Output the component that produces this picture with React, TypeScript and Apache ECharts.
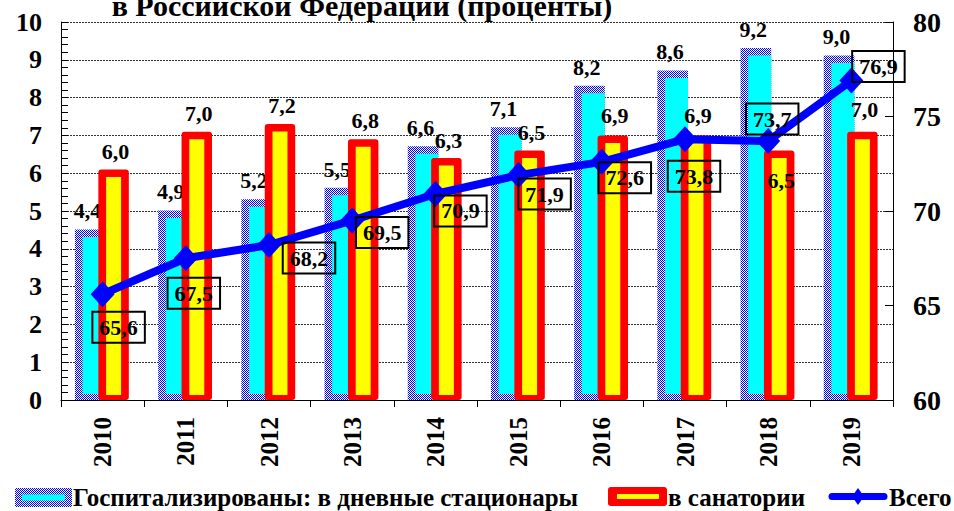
import React, { useEffect, useRef } from 'react';
import * as echarts from 'echarts';

const years = ['2010', '2011', '2012', '2013', '2014', '2015', '2016', '2017', '2018', '2019'];
const dayHospital = [4.4, 4.9, 5.2, 5.5, 6.6, 7.1, 8.2, 8.6, 9.2, 9.0];
const sanatorium = [6.0, 7.0, 7.2, 6.8, 6.3, 6.5, 6.9, 6.9, 6.5, 7.0];
const total = [65.6, 67.5, 68.2, 69.5, 70.9, 71.9, 72.6, 73.8, 73.7, 76.9];

const leftAxis = { min: 0, max: 10, interval: 1 };
const rightAxis = { min: 60, max: 80, interval: 5 };

const titleText = 'в Российской Федерации (проценты)';
const legendNames = ['Госпитализированы: в дневные стационары', 'в санатории', 'Всего'];

// label placement (styling only)
const totalLabelOffsets: [number, number][] = [
  [16, 33], [8, 35], [40, 13], [30, 12], [25, 17], [26, 19], [23, 16], [9, 37], [4, -22], [27, -14],
];
const sanLabelDy = [-22, -22, -22, -22, -21, -22, -24, -24, 26, -26];

const FONT = "'Liberation Serif', 'Times New Roman', 'DejaVu Serif', serif";
const fmt = (v: number) => v.toFixed(1).replace('.', ',');

function makeChecker() {
  const c = document.createElement('canvas');
  c.width = 2;
  c.height = 2;
  const ctx = c.getContext('2d')!;
  ctx.fillStyle = '#ffffff';
  ctx.fillRect(0, 0, 2, 2);
  ctx.fillStyle = '#0000ff';
  ctx.fillRect(0, 0, 1, 1);
  ctx.fillRect(1, 1, 1, 1);
  return { image: c.toDataURL(), repeat: 'repeat', imageWidth: 2, imageHeight: 2 } as any;
}

export default function App() {
  const ref = useRef<HTMLDivElement>(null);
  useEffect(() => {
    if (!ref.current) return;
    const chart = echarts.init(ref.current, undefined, { renderer: 'svg' });
    const checker = makeChecker();

    const blueRender = (params: any, api: any) => {
      const idx = api.value(0);
      const v = api.value(1);
      const p = api.coord([idx, v]);
      const p0 = api.coord([idx, 0]);
      const k = api.size([1, 0])[0] / 83.3;
      const cx = p[0];
      const y = p[1];
      const y0 = p0[1];
      const l = cx - 27.7 * k;
      const r = cx + 3 * k;
      return {
        type: 'group',
        children: [
          { type: 'rect', shape: { x: l, y: y - 4.3, width: r - l, height: y0 - y + 4.3 }, style: { fill: checker } },
          { type: 'rect', shape: { x: l + 7.7, y: y + 3.2, width: r - l - 7.7, height: y0 - y - 9.2 }, style: { fill: '#00ffff' } },
          {
            type: 'text', x: cx - 15 * k, y: y - 23, z2: 10,
            style: { text: fmt(v), fontFamily: FONT, fontSize: 22, fontWeight: 'bold', fill: '#000', align: 'center', verticalAlign: 'middle' },
          },
        ],
      };
    };

    const redRender = (params: any, api: any) => {
      const idx = api.value(0);
      const v = api.value(1);
      const p = api.coord([idx, v]);
      const p0 = api.coord([idx, 0]);
      const k = api.size([1, 0])[0] / 83.3;
      const cx = p[0];
      const y = p[1];
      const y0 = p0[1];
      const l = cx - 4.25 * k;
      const r = cx + 26.25 * k;
      return {
        type: 'group',
        children: [
          { type: 'rect', shape: { x: l, y: y - 3.75, width: r - l, height: y0 - y + 3.75, r: 3 }, style: { fill: '#ff0000' } },
          { type: 'rect', shape: { x: l + 7.75, y: y + 3.75, width: r - l - 15.5, height: y0 - y - 8.75 }, style: { fill: '#ffff00' } },
          {
            type: 'text', x: cx + 13 * k, y: y + sanLabelDy[idx], z2: 10,
            style: { text: fmt(v), fontFamily: FONT, fontSize: 22, fontWeight: 'bold', fill: '#000', align: 'center', verticalAlign: 'middle' },
          },
        ],
      };
    };

    const ly = 497;
    const legendText = (x: number, text: string) => ({
      type: 'text', x, y: ly,
      style: { text, fontFamily: FONT, fontSize: 25, fontWeight: 'bold', fill: '#000', verticalAlign: 'middle' },
    });

    chart.setOption({
      animation: false,
      backgroundColor: '#ffffff',
      textStyle: { fontFamily: FONT },
      grid: { left: 61, right: 61, top: 22, bottom: 111, containLabel: false },
      xAxis: {
        type: 'category',
        data: years,
        axisLine: { lineStyle: { color: '#000', width: 1 } },
        axisTick: { show: true, length: 7, lineStyle: { color: '#000' } },
        axisLabel: { rotate: 90, fontSize: 25, fontWeight: 'bold', color: '#000', fontFamily: FONT, margin: 17 },
        splitLine: { show: false },
      },
      yAxis: [
        {
          type: 'value', min: leftAxis.min, max: leftAxis.max, interval: leftAxis.interval,
          axisLine: { show: true, lineStyle: { color: '#000' } },
          axisTick: { show: true, inside: true, length: 7, lineStyle: { color: '#000' } },
          minorTick: { show: true, splitNumber: 5, length: 7, lineStyle: { color: '#000' } },
          axisLabel: { fontSize: 26, fontWeight: 'bold', color: '#000', fontFamily: FONT, margin: 19 },
          splitLine: { show: true, lineStyle: { color: '#333', type: [2, 1], width: 1 } },
        },
        {
          type: 'value', min: rightAxis.min, max: rightAxis.max, interval: rightAxis.interval,
          position: 'right',
          axisLine: { show: true, lineStyle: { color: '#000' } },
          axisTick: { show: true, inside: true, length: 8, lineStyle: { color: '#000' } },
          axisLabel: { fontSize: 28, fontWeight: 'bold', color: '#000', fontFamily: FONT, margin: 20 },
          splitLine: { show: false },
        },
      ],
      series: [
        {
          name: legendNames[0], type: 'custom', renderItem: blueRender,
          data: dayHospital.map((v, i) => [i, v]), encode: { x: 0, y: 1 }, z: 2,
        },
        {
          name: legendNames[1], type: 'custom', renderItem: redRender,
          data: sanatorium.map((v, i) => [i, v]), encode: { x: 0, y: 1 }, z: 3,
        },
        {
          name: legendNames[2], type: 'line', yAxisIndex: 1, z: 5,
          data: total.map((v, i) => ({
            value: v,
            label: { offset: totalLabelOffsets[i] },
          })),
          symbol: 'diamond', symbolSize: [24, 26],
          lineStyle: { color: '#0000ff', width: 8 },
          itemStyle: { color: '#0000ff' },
          label: {
            show: true, position: 'inside', formatter: (p: any) => fmt(p.value),
            color: '#000', fontSize: 22, fontWeight: 'bold', fontFamily: FONT,
            borderColor: '#000', borderWidth: 1, padding: [5, 7, 4, 7], backgroundColor: 'transparent',
          },
        },
      ],
      graphic: [
        {
          type: 'text', x: 362, y: 20, z: 100,
          style: { text: titleText, fontFamily: FONT, fontSize: 30, fontWeight: 'bold', fill: '#000', align: 'center', verticalAlign: 'bottom' },
        },
        // legend item 1
        { type: 'rect', shape: { x: 15, y: 488, width: 57, height: 19 }, style: { fill: checker } },
        { type: 'rect', shape: { x: 22, y: 494.5, width: 43, height: 6 }, style: { fill: '#00ffff' } },
        legendText(73, legendNames[0]),
        // legend item 2
        { type: 'rect', shape: { x: 608, y: 487, width: 59, height: 19, r: 3 }, style: { fill: '#ff0000' } },
        { type: 'rect', shape: { x: 617, y: 494, width: 42, height: 5 }, style: { fill: '#ffff00' } },
        legendText(668, legendNames[1]),
        // legend item 3
        { type: 'line', shape: { x1: 832, y1: 496.5, x2: 884, y2: 496.5 }, style: { stroke: '#0000ff', lineWidth: 7, lineCap: 'round' } },
        { type: 'polygon', shape: { points: [[858, 488], [864, 496.5], [858, 505], [852, 496.5]] }, style: { fill: '#0000ff' } },
        legendText(889, legendNames[2]),
      ],
    });
    return () => chart.dispose();
  }, []);
  return (
    <div
      ref={ref}
      style={{ position: 'absolute', left: 0, top: 0, width: 954, height: 511 }}
    />
  );
}
